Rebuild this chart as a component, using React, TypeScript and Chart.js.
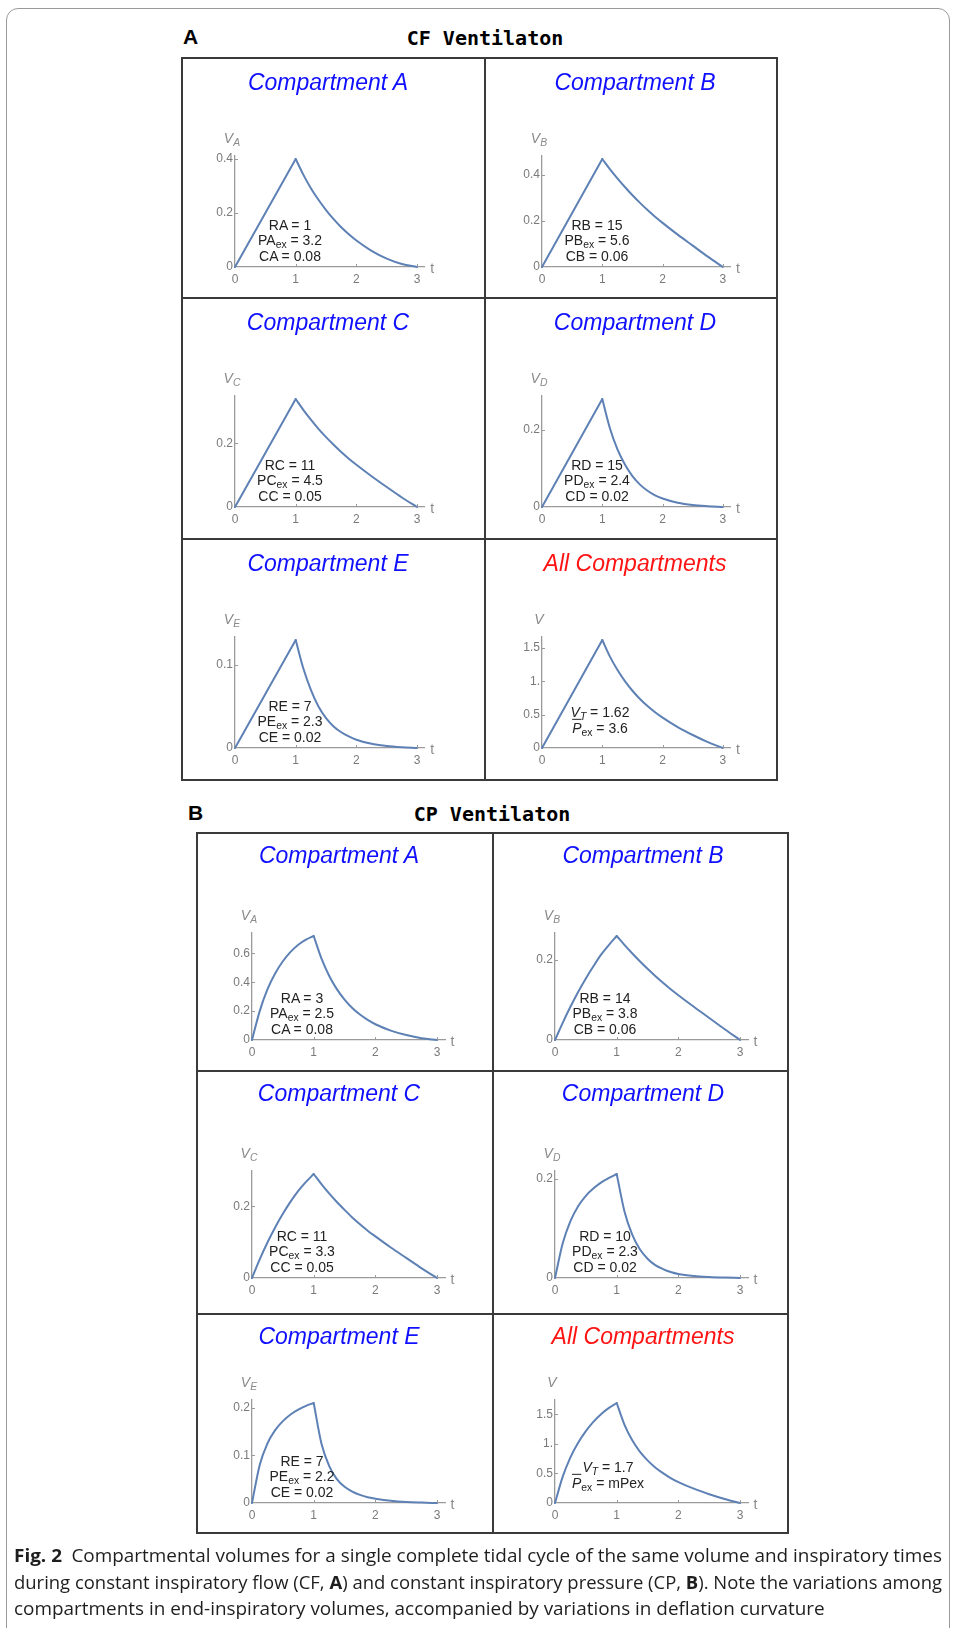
import React, { useEffect, useLayoutEffect, useRef } from "react";
import { Chart, registerables } from "chart.js";
Chart.register(...registerables);

// ---------------- data ----------------
const xTicks = [0, 1, 2, 3];
const xTickLabels = ["0", "1", "2", "3"];
const cfRiseT = [0, 1];
const cpRiseT = [0, 0.125, 0.25, 0.375, 0.5, 0.625, 0.75, 0.875, 1];
const decayT = [1, 1.125, 1.25, 1.375, 1.5, 1.625, 1.75, 1.875, 2, 2.25, 2.5, 2.75, 3];

// CF ventilation (panel A)
const cfRiseA = [0, 0.4];
const cfDecayA = [0.4, 0.342, 0.292, 0.249, 0.211, 0.177, 0.147, 0.121, 0.098, 0.06, 0.031, 0.011, 0];
const cfRiseB = [0, 0.47];
const cfDecayB = [0.47, 0.426, 0.386, 0.348, 0.312, 0.279, 0.248, 0.219, 0.192, 0.141, 0.093, 0.045, 0];
const cfRiseC = [0, 0.34];
const cfDecayC = [0.34, 0.306, 0.275, 0.246, 0.22, 0.196, 0.173, 0.152, 0.133, 0.097, 0.063, 0.03, 0];
const cfRiseD = [0, 0.28];
const cfDecayD = [0.28, 0.205, 0.15, 0.11, 0.08, 0.058, 0.042, 0.03, 0.022, 0.011, 0.005, 0.002, 0];
const cfRiseE = [0, 0.13];
const cfDecayE = [0.13, 0.096, 0.07, 0.05, 0.036, 0.026, 0.019, 0.014, 0.01, 0.005, 0.0025, 0.001, 0];
const cfRiseAll = [0, 1.62];
const cfDecayAll = [1.62, 1.375, 1.173, 1.003, 0.859, 0.736, 0.629, 0.536, 0.455, 0.314, 0.195, 0.089, 0];

// CP ventilation (panel B)
const cpRiseA = [0, 0.2, 0.35, 0.46, 0.545, 0.61, 0.66, 0.695, 0.72];
const cpDecayA = [0.72, 0.565, 0.445, 0.352, 0.28, 0.222, 0.176, 0.139, 0.109, 0.065, 0.034, 0.012, 0];
const cpRiseB = [0, 0.043, 0.083, 0.12, 0.154, 0.185, 0.214, 0.238, 0.26];
const cpDecayB = [0.26, 0.238, 0.217, 0.197, 0.178, 0.16, 0.143, 0.127, 0.112, 0.083, 0.055, 0.027, 0];
const cpRiseC = [0, 0.052, 0.099, 0.141, 0.179, 0.213, 0.243, 0.268, 0.29];
const cpDecayC = [0.29, 0.262, 0.236, 0.212, 0.19, 0.169, 0.15, 0.132, 0.116, 0.085, 0.056, 0.027, 0];
const cpRiseD = [0, 0.07, 0.115, 0.145, 0.166, 0.181, 0.193, 0.202, 0.21];
const cpDecayD = [0.21, 0.135, 0.088, 0.058, 0.039, 0.026, 0.018, 0.012, 0.008, 0.004, 0.002, 0.0008, 0];
const cpRiseE = [0, 0.08, 0.125, 0.153, 0.172, 0.186, 0.196, 0.204, 0.21];
const cpDecayE = [0.21, 0.125, 0.078, 0.05, 0.034, 0.024, 0.017, 0.012, 0.009, 0.0045, 0.002, 0.0008, 0];
const cpRiseAll = [0, 0.445, 0.772, 1.019, 1.216, 1.375, 1.506, 1.607, 1.69];
const cpDecayAll = [1.69, 1.325, 1.064, 0.869, 0.721, 0.601, 0.504, 0.422, 0.354, 0.242, 0.149, 0.068, 0];

const cfYTicks = [[0, 0.2, 0.4], [0, 0.2, 0.4], [0, 0.2], [0, 0.2], [0, 0.1], [0, 0.5, 1, 1.5]];
const cfYTickLabels = [["0", "0.2", "0.4"], ["0", "0.2", "0.4"], ["0", "0.2"], ["0", "0.2"], ["0", "0.1"], ["0", "0.5", "1.", "1.5"]];
const cpYTicks = [[0, 0.2, 0.4, 0.6], [0, 0.2], [0, 0.2], [0, 0.2], [0, 0.1, 0.2], [0, 0.5, 1, 1.5]];
const cpYTickLabels = [["0", "0.2", "0.4", "0.6"], ["0", "0.2"], ["0", "0.2"], ["0", "0.2"], ["0", "0.1", "0.2"], ["0", "0.5", "1.", "1.5"]];

const cellTitles = ["Compartment A", "Compartment B", "Compartment C", "Compartment D", "Compartment E", "All Compartments"];
const volumeSubs = ["A", "B", "C", "D", "E", ""];
const cfParams = [
  ["RA = 1", "PA_ex = 3.2", "CA = 0.08"],
  ["RB = 15", "PB_ex = 5.6", "CB = 0.06"],
  ["RC = 11", "PC_ex = 4.5", "CC = 0.05"],
  ["RD = 15", "PD_ex = 2.4", "CD = 0.02"],
  ["RE = 7", "PE_ex = 2.3", "CE = 0.02"],
];
const cpParams = [
  ["RA = 3", "PA_ex = 2.5", "CA = 0.08"],
  ["RB = 14", "PB_ex = 3.8", "CB = 0.06"],
  ["RC = 11", "PC_ex = 3.3", "CC = 0.05"],
  ["RD = 10", "PD_ex = 2.3", "CD = 0.02"],
  ["RE = 7", "PE_ex = 2.2", "CE = 0.02"],
];
const cfTotals = ["1.62", "3.6"];
const cpTotals = ["1.7", "mPex"];

const captionLines = [
  "Compartmental volumes for a single complete tidal cycle of the same volume and inspiratory times",
  "during constant inspiratory flow (CF, |A|) and constant inspiratory pressure (CP, |B|). Note the variations among",
  "compartments in end-inspiratory volumes, accompanied by variations in deflation curvature",
];

// ---------------- layout ----------------
const FONT = '"Liberation Sans", Arial, Helvetica, sans-serif';
const LINE = "#5e81b5";
const AXIS = "#9a9a9a";
const TICK = "#7a7a7a";

type Geom = {
  left: number; mid: number; right: number; top: number; rows: number[]; bottom: number;
  ox: number[]; unit: number[]; oy: number[]; ph: number[]; titleX: number[]; titleY: number; annDx: number;
};
const geomA: Geom = {
  left: 182, mid: 485, right: 777, top: 58, rows: [298, 539], bottom: 780,
  ox: [53, 57], unit: [60.7, 60.3], oy: [209, 209, 209], ph: [108, 108, 108], titleX: [146, 150], titleY: 24, annDx: 55,
};
const geomB: Geom = {
  left: 197, mid: 493, right: 788, top: 833, rows: [1071, 1314], bottom: 1533,
  ox: [55, 62], unit: [61.7, 61.7], oy: [207, 207, 189], ph: [104, 104, 100], titleX: [142, 150], titleY: 22, annDx: 50,
};

const subStyle: React.CSSProperties = { fontSize: "0.74em", position: "relative", top: "0.32em" };

function renderParam(s: string) {
  const m = s.match(/^(\S+?)_(\w+)(.*)$/);
  if (!m) return s;
  return (<>{m[1]}<span style={subStyle}>{m[2]}</span>{m[3]}</>);
}

const tickMarks = {
  id: "inwardTicks",
  afterDatasetsDraw(chart: any) {
    const ctx = chart.ctx;
    const xs = chart.scales.x, ys = chart.scales.y;
    const a = chart.chartArea;
    ctx.save();
    ctx.strokeStyle = AXIS;
    ctx.lineWidth = 1;
    ctx.beginPath();
    xs.ticks.forEach((t: any) => {
      if (t.value === 0) return;
      const px = Math.round(xs.getPixelForValue(t.value)) + 0.5;
      ctx.moveTo(px, a.bottom); ctx.lineTo(px, a.bottom - 3);
    });
    ys.ticks.forEach((t: any) => {
      if (t.value === 0) return;
      const py = Math.round(ys.getPixelForValue(t.value)) + 0.5;
      ctx.moveTo(a.left, py); ctx.lineTo(a.left + 3, py);
    });
    ctx.stroke();
    ctx.restore();
  },
};

type CellProps = {
  x0: number; y0: number; w: number; h: number;
  ox: number; unit: number; oy: number; ph: number;
  titleX: number; titleY: number; title: string; titleColor: string; vSub: string;
  riseT: number[]; riseV: number[]; decayV: number[];
  yTicks: number[]; yLabels: string[];
  ann: React.ReactNode[]; annDx: number; annDy: number[];
};

function Cell(p: CellProps) {
  const ref = useRef<HTMLCanvasElement>(null);
  const peak = p.decayV[0];
  const yMax = peak * 1.03;
  const xMax = 3.13;
  const chartLeft = p.ox;
  const chartRight = p.ox + xMax * p.unit;
  const chartBottom = p.oy;
  const chartTop = p.oy - p.ph * 1.03;
  useEffect(() => {
    const YW = 34, XH = 22;
    const style = {
      borderColor: LINE, borderWidth: 2, pointRadius: 0, cubicInterpolationMode: "monotone" as const,
      clip: false as any, fill: false, borderCapStyle: "round" as const, borderJoinStyle: "round" as const,
    };
    const chart = new Chart(ref.current!, {
      type: "line",
      data: {
        datasets: [
          { data: p.riseT.map((t, i) => ({ x: t, y: p.riseV[i] })), ...style },
          { data: decayT.map((t, i) => ({ x: t, y: p.decayV[i] })), ...style },
        ],
      },
      options: {
        animation: false, responsive: false, events: [],
        layout: { padding: { left: chartLeft - YW, right: p.w - chartRight, top: chartTop, bottom: p.h - chartBottom - XH } },
        plugins: { legend: { display: false }, tooltip: { enabled: false } },
        scales: {
          x: {
            type: "linear", min: 0, max: xMax,
            afterBuildTicks: (s: any) => { s.ticks = xTicks.map((v) => ({ value: v })); },
            afterFit: (s: any) => { s.height = XH; },
            grid: { display: true, drawOnChartArea: false, drawTicks: false },
            border: { display: true, color: AXIS, width: 1.3 },
            ticks: { color: TICK, font: { family: FONT, size: 12 }, padding: 5, autoSkip: false, maxRotation: 0, callback: (_v: any, i: number) => xTickLabels[i] },
          },
          y: {
            type: "linear", min: 0, max: yMax,
            afterBuildTicks: (s: any) => { s.ticks = p.yTicks.map((v) => ({ value: v })); },
            afterFit: (s: any) => { s.width = YW; },
            grid: { display: true, drawOnChartArea: false, drawTicks: false },
            border: { display: true, color: AXIS, width: 1.3 },
            ticks: { color: TICK, font: { family: FONT, size: 12 }, padding: 2, autoSkip: false, callback: (_v: any, i: number) => p.yLabels[i] },
          },
        },
      },
      plugins: [tickMarks],
    } as any);
    return () => chart.destroy();
  }, []);

  const centered: React.CSSProperties = { position: "absolute", transform: "translate(-50%, -50%)", whiteSpace: "nowrap", lineHeight: 1 };
  return (
    <div style={{ position: "absolute", left: p.x0, top: p.y0, width: p.w, height: p.h }}>
      <canvas ref={ref} width={p.w} height={p.h} style={{ position: "absolute", left: 0, top: 0 }} />
      <div style={{ ...centered, left: p.titleX, top: p.titleY, fontFamily: FONT, fontStyle: "italic", fontSize: 23, color: p.titleColor }}>{p.title}</div>
      <div style={{ ...centered, left: p.ox - 3, top: chartTop - 18, fontFamily: FONT, fontStyle: "italic", fontSize: 14, color: "#8a8a8a" }}>
        V{p.vSub ? <span style={subStyle}>{p.vSub}</span> : null}
      </div>
      <div style={{ ...centered, left: p.ox + 3.25 * p.unit, top: p.oy + 1, fontFamily: FONT, fontSize: 14, color: "#8a8a8a" }}>t</div>
      {p.ann.map((a, i) => (
        <div key={i} style={{ ...centered, left: p.ox + p.annDx, top: p.oy + p.annDy[i], fontFamily: FONT, fontSize: 14, color: "#222" }}>{a}</div>
      ))}
    </div>
  );
}

type PanelData = {
  geom: Geom; riseT: number[]; rises: number[][]; decays: number[][]; yTicks: number[][]; yLabels: string[][];
  params: string[][]; totals: string[];
};

function Panel({ d }: { d: PanelData }) {
  const g = d.geom;
  const rowTops = [g.top, g.rows[0], g.rows[1]];
  const rowBots = [g.rows[0], g.rows[1], g.bottom];
  const colL = [g.left, g.mid];
  const colR = [g.mid, g.right];
  const cells: React.ReactNode[] = [];
  for (let i = 0; i < 6; i++) {
    const r = Math.floor(i / 2), c = i % 2;
    const isAll = i === 5;
    const ann = isAll
      ? [
          <><i>V</i><span style={{ ...subStyle, fontStyle: "italic" }}>T</span>{" = " + d.totals[0]}</>,
          <><i style={{ textDecoration: "overline" }}>P</i><span style={subStyle}>ex</span>{" = " + d.totals[1]}</>,
        ]
      : d.params[i].map((s) => renderParam(s));
    cells.push(
      <Cell key={i}
        x0={colL[c]} y0={rowTops[r]} w={colR[c] - colL[c]} h={rowBots[r] - rowTops[r]}
        ox={g.ox[c]} unit={g.unit[c]} oy={g.oy[r]} ph={g.ph[r]}
        titleX={g.titleX[c]} titleY={g.titleY} title={cellTitles[i]} titleColor={isAll ? "#ff1414" : "#1010ff"}
        vSub={volumeSubs[i]} riseT={d.riseT} riseV={d.rises[i]} decayV={d.decays[i]}
        yTicks={d.yTicks[i]} yLabels={d.yLabels[i]}
        ann={ann} annDx={isAll ? g.annDx + 3 : g.annDx} annDy={isAll ? [-36, -20] : [-42, -27, -11]}
      />
    );
  }
  const lineC = "#3a3a3a";
  const lines = [
    { left: g.left - 1, top: g.top - 1, width: g.right - g.left + 2, height: 2 },
    { left: g.left - 1, top: g.bottom - 1, width: g.right - g.left + 2, height: 2 },
    { left: g.left - 1, top: g.rows[0] - 1, width: g.right - g.left + 2, height: 2 },
    { left: g.left - 1, top: g.rows[1] - 1, width: g.right - g.left + 2, height: 2 },
    { left: g.left - 1, top: g.top - 1, width: 2, height: g.bottom - g.top + 2 },
    { left: g.mid - 1, top: g.top - 1, width: 2, height: g.bottom - g.top + 2 },
    { left: g.right - 1, top: g.top - 1, width: 2, height: g.bottom - g.top + 2 },
  ];
  return (
    <>
      {cells}
      {lines.map((l, i) => (<div key={"l" + i} style={{ position: "absolute", ...l, background: lineC }} />))}
    </>
  );
}

function renderCaption(s: string) {
  return s.split("|").map((part, i) => (i % 2 === 1 ? <b key={i}>{part}</b> : <span key={i}>{part}</span>));
}

function Caption() {
  const r0 = useRef<HTMLDivElement>(null);
  const r1 = useRef<HTMLDivElement>(null);
  const r2 = useRef<HTMLDivElement>(null);
  useLayoutEffect(() => {
    const target = 928;
    const w0 = r0.current!.getBoundingClientRect().width;
    const w1 = r1.current!.getBoundingClientRect().width;
    const k0 = target / w0;
    const k1 = target / w1;
    r0.current!.style.transform = `scaleX(${k0})`;
    r1.current!.style.transform = `scaleX(${k1})`;
    r2.current!.style.transform = `scaleX(${k0})`;
  }, []);
  const base: React.CSSProperties = {
    position: "absolute", left: 14, whiteSpace: "nowrap", transformOrigin: "0 0",
    fontFamily: '"Open Sans", "Noto Sans", sans-serif', fontSize: 18.5, lineHeight: "20px", color: "#1e1e1e",
  };
  return (
    <>
      <div ref={r0} style={{ ...base, top: 1545 }}><b>Fig. 2</b>{"\u2002" + captionLines[0]}</div>
      <div ref={r1} style={{ ...base, top: 1572 }}>{renderCaption(captionLines[1])}</div>
      <div ref={r2} style={{ ...base, top: 1598 }}>{renderCaption(captionLines[2])}</div>
    </>
  );
}

export default function App() {
  const panelA: PanelData = {
    geom: geomA, riseT: cfRiseT,
    rises: [cfRiseA, cfRiseB, cfRiseC, cfRiseD, cfRiseE, cfRiseAll],
    decays: [cfDecayA, cfDecayB, cfDecayC, cfDecayD, cfDecayE, cfDecayAll],
    yTicks: cfYTicks, yLabels: cfYTickLabels, params: cfParams, totals: cfTotals,
  };
  const panelB: PanelData = {
    geom: geomB, riseT: cpRiseT,
    rises: [cpRiseA, cpRiseB, cpRiseC, cpRiseD, cpRiseE, cpRiseAll],
    decays: [cpDecayA, cpDecayB, cpDecayC, cpDecayD, cpDecayE, cpDecayAll],
    yTicks: cpYTicks, yLabels: cpYTickLabels, params: cpParams, totals: cpTotals,
  };
  const head: React.CSSProperties = { position: "absolute", transform: "translate(-50%, -50%)", whiteSpace: "nowrap", lineHeight: 1 };
  return (
    <div style={{ position: "absolute", left: 0, top: 0, width: 956, height: 1628, background: "#fff", overflow: "hidden" }}>
      <div style={{ position: "absolute", left: 6, top: 8, width: 944, height: 1640, border: "1.5px solid #9a9a9a", borderRadius: 12, boxSizing: "border-box" }} />
      <div style={{ position: "absolute", left: 183, top: 26, fontFamily: FONT, fontWeight: "bold", fontSize: 21, lineHeight: 1 }}>A</div>
      <div style={{ ...head, left: 485, top: 38, fontFamily: '"DejaVu Sans Mono", monospace', fontWeight: "bold", fontSize: 20 }}>CF Ventilaton</div>
      <div style={{ position: "absolute", left: 188, top: 802, fontFamily: FONT, fontWeight: "bold", fontSize: 21, lineHeight: 1 }}>B</div>
      <div style={{ ...head, left: 492, top: 814, fontFamily: '"DejaVu Sans Mono", monospace', fontWeight: "bold", fontSize: 20 }}>CP Ventilaton</div>
      <Panel d={panelA} />
      <Panel d={panelB} />
      <Caption />
    </div>
  );
}
